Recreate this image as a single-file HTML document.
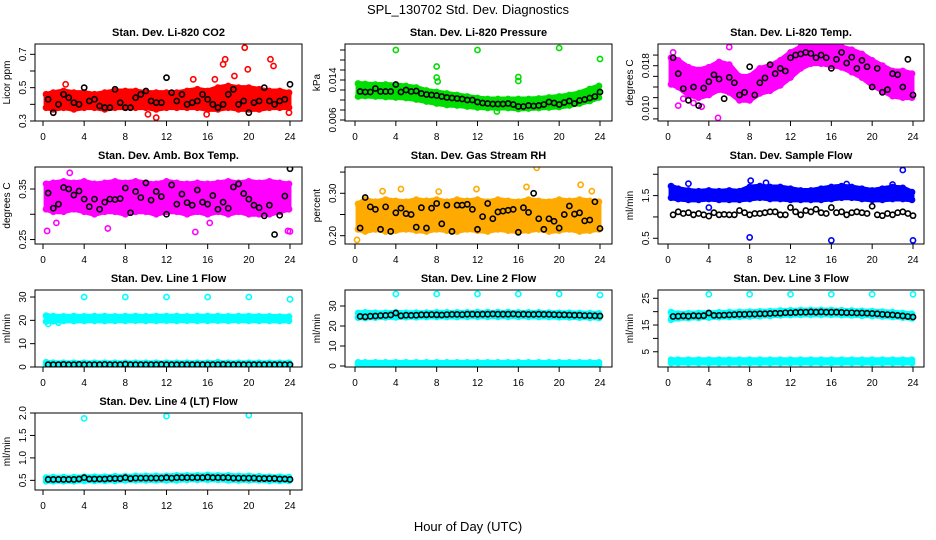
<!DOCTYPE html>
<html><head><meta charset="utf-8"><style>
html,body{margin:0;padding:0;background:#fff}
svg{display:block}
text{font-family:"Liberation Sans",Arial,sans-serif;fill:#000}
.ttl{font-size:11px;font-weight:bold}
.tk{font-size:10px}
</style></head><body>
<svg id="chart" width="936" height="540" viewBox="0 0 936 540">
<text x="468" y="14" text-anchor="middle" font-size="13">SPL_130702  Std. Dev. Diagnostics</text>
<text x="468" y="531" text-anchor="middle" font-size="13">Hour of Day (UTC)</text>
</svg>
<script>
// ---- shared categories ----
const hours = [0,1,2,3,4,5,6,7,8,9,10,11,12,13,14,15,16,17,18,19,20,21,22,23,24];
const halfHours = [0.5,1,1.5,2,2.5,3,3.5,4,4.5,5,5.5,6,6.5,7,7.5,8,8.5,9,9.5,10,10.5,11,11.5,12,12.5,13,13.5,14,14.5,15,15.5,16,16.5,17,17.5,18,18.5,19,19.5,20,20.5,21,21.5,22,22.5,23,23.5,24];
const xTicks = [0,4,8,12,16,20,24];

// ---- CO2 ----
const co2Lo = [0.38,0.37,0.38,0.37,0.38,0.38,0.37,0.38,0.38,0.38,0.38,0.37,0.38,0.38,0.38,0.38,0.37,0.37,0.38,0.37,0.37,0.37,0.38,0.38,0.38];
const co2Hi = [0.46,0.47,0.48,0.47,0.47,0.46,0.47,0.48,0.48,0.48,0.47,0.47,0.47,0.47,0.48,0.49,0.48,0.50,0.51,0.50,0.50,0.49,0.48,0.48,0.47];
const co2OutX = [17.5,17.7,19.6,19.9,22.1,22.4,14.6,18.6,11.0,10.2,15.9,23.9,2.2,16.7];
const co2OutY = [0.64,0.67,0.74,0.61,0.67,0.63,0.55,0.57,0.32,0.34,0.34,0.35,0.52,0.55];
const co2Black = [0.43,0.35,0.40,0.46,0.44,0.41,0.40,0.50,0.42,0.43,0.39,0.38,0.38,0.49,0.41,0.38,0.38,0.44,0.46,0.48,0.42,0.41,0.41,0.56,0.47,0.42,0.46,0.40,0.41,0.42,0.46,0.43,0.40,0.38,0.40,0.46,0.49,0.40,0.42,0.35,0.41,0.42,0.50,0.42,0.40,0.42,0.43,0.52];

// ---- Pressure ----
const presLo = [0.0107,0.0108,0.0107,0.0106,0.0105,0.0104,0.0101,0.0097,0.0093,0.0090,0.0089,0.0087,0.0085,0.0084,0.0084,0.0084,0.0082,0.0083,0.0084,0.0085,0.0086,0.0089,0.0093,0.0098,0.0105];
const presHi = [0.0133,0.0132,0.0131,0.0131,0.0130,0.0128,0.0125,0.0119,0.0116,0.0113,0.0110,0.0107,0.0104,0.0102,0.0102,0.0102,0.0102,0.0102,0.0103,0.0105,0.0107,0.0110,0.0114,0.0122,0.0128];
const presOutX = [4,12,20,24,8,8,8.1,16,16,13.9];
const presOutY = [0.0200,0.0200,0.0204,0.0182,0.0167,0.0145,0.0137,0.0146,0.0138,0.0077];
const presBlack = [0.0117,0.0116,0.0116,0.0123,0.0117,0.0117,0.0117,0.0131,0.0116,0.0120,0.0117,0.0118,0.0113,0.0111,0.0110,0.0109,0.0107,0.0105,0.0104,0.0103,0.0102,0.0100,0.0100,0.0096,0.0094,0.0093,0.0092,0.0092,0.0092,0.0093,0.0091,0.0087,0.0087,0.0089,0.0088,0.0089,0.0091,0.0096,0.0094,0.0091,0.0095,0.0098,0.0093,0.0099,0.0101,0.0104,0.0107,0.0116];

// ---- Li-820 Temp ----
const tempLo = [0.0145,0.0140,0.0125,0.0120,0.0125,0.0135,0.0130,0.0115,0.0115,0.0128,0.0133,0.0143,0.0158,0.0175,0.0184,0.0184,0.0180,0.0177,0.0168,0.0158,0.0143,0.0133,0.0123,0.0120,0.0120];
const tempHi = [0.0195,0.0190,0.0177,0.0172,0.0177,0.0187,0.0182,0.0160,0.0160,0.0175,0.0180,0.0190,0.0205,0.0215,0.0220,0.0220,0.0217,0.0215,0.0210,0.0202,0.0190,0.0180,0.0170,0.0170,0.0165];
const tempOutX = [0.5,1.0,3.3,4.9,1.5,2.5,6.0];
const tempOutY = [0.0205,0.0105,0.0103,0.0082,0.0118,0.0110,0.0215];
const tempBlack = [0.0195,0.0165,0.0137,0.0115,0.0140,0.0105,0.0138,0.0150,0.0163,0.0155,0.0118,0.0158,0.0148,0.0125,0.0130,0.0178,0.0125,0.0148,0.0157,0.0182,0.0165,0.0175,0.0170,0.0195,0.0200,0.0202,0.0205,0.0203,0.0195,0.0200,0.0195,0.0175,0.0192,0.0205,0.0185,0.0196,0.0175,0.0190,0.0178,0.0140,0.0175,0.0130,0.0135,0.0165,0.0163,0.0140,0.0192,0.0125];

// ---- Amb Box Temp ----
const ambLo = [0.310,0.305,0.305,0.310,0.305,0.300,0.305,0.305,0.300,0.305,0.305,0.300,0.305,0.305,0.300,0.305,0.300,0.305,0.300,0.305,0.300,0.300,0.300,0.305,0.310];
const ambHi = [0.360,0.362,0.365,0.362,0.365,0.360,0.362,0.365,0.362,0.365,0.362,0.360,0.365,0.362,0.360,0.362,0.360,0.362,0.365,0.362,0.365,0.362,0.365,0.362,0.360];
const ambOutX = [2.6,0.4,6.3,14.8,23.8,24.0,1.3,16.2];
const ambOutY = [0.382,0.267,0.272,0.265,0.267,0.266,0.283,0.283];
const ambBlack = [0.342,0.312,0.320,0.353,0.350,0.338,0.346,0.330,0.315,0.330,0.310,0.324,0.330,0.329,0.331,0.352,0.303,0.345,0.333,0.362,0.328,0.345,0.335,0.300,0.358,0.320,0.340,0.323,0.318,0.348,0.324,0.320,0.337,0.310,0.324,0.312,0.354,0.360,0.341,0.330,0.318,0.313,0.297,0.318,0.260,0.298,0.336,0.390];

// ---- Gas Stream RH ----
const rhLo = [0.215,0.210,0.215,0.210,0.212,0.215,0.212,0.210,0.215,0.212,0.210,0.215,0.212,0.210,0.215,0.212,0.210,0.212,0.215,0.210,0.212,0.215,0.210,0.212,0.215];
const rhHi = [0.275,0.285,0.280,0.285,0.282,0.280,0.285,0.282,0.285,0.280,0.285,0.282,0.285,0.280,0.285,0.282,0.280,0.285,0.282,0.280,0.285,0.282,0.285,0.282,0.280];
const rhOutX = [17.8,22.1,0.2,11.9,2.7,4.5,8.2,23.2,16.8];
const rhOutY = [0.360,0.320,0.190,0.310,0.305,0.310,0.304,0.305,0.315];
const rhBlack = [0.218,0.290,0.268,0.262,0.215,0.268,0.210,0.254,0.265,0.252,0.250,0.220,0.266,0.218,0.265,0.276,0.228,0.272,0.210,0.272,0.272,0.274,0.262,0.215,0.245,0.276,0.240,0.256,0.258,0.260,0.262,0.208,0.266,0.255,0.300,0.240,0.215,0.240,0.234,0.218,0.250,0.270,0.251,0.254,0.235,0.237,0.280,0.217];

// ---- Sample Flow ----
const sfLo = [1.45,1.42,1.40,1.40,1.42,1.40,1.40,1.40,1.42,1.45,1.42,1.42,1.40,1.40,1.40,1.40,1.42,1.45,1.45,1.42,1.40,1.40,1.42,1.42,1.40];
const sfHi = [1.72,1.66,1.62,1.60,1.62,1.60,1.62,1.60,1.70,1.72,1.70,1.70,1.66,1.62,1.62,1.66,1.70,1.72,1.70,1.66,1.62,1.66,1.70,1.68,1.58];
const sfOutX = [8,16,24,23,2,8.1,9.6,17.5,4,22];
const sfOutY = [0.52,0.45,0.45,2.10,1.78,1.85,1.80,1.77,1.22,1.76];
const sfBlack = [1.05,1.12,1.08,1.10,1.05,1.08,1.05,1.02,1.10,1.05,1.06,1.05,1.05,1.15,1.10,1.05,1.08,1.08,1.10,1.12,1.12,1.05,1.05,1.22,1.12,1.05,1.15,1.12,1.18,1.10,1.08,1.22,1.10,1.12,1.05,1.10,1.12,1.10,1.08,1.25,1.05,1.03,1.08,1.05,1.10,1.12,1.08,1.03];

// ---- Line 1 Flow ----
const l1Lo = [19.5,19.6,19.8,19.7,19.8,19.8,19.7,19.8,19.8,19.9,19.8,19.8,19.9,19.8,19.9,19.8,19.8,19.9,19.8,19.9,19.8,19.8,19.8,19.7,19.8];
const l1Hi = [22.0,21.8,21.7,21.8,21.7,21.8,21.8,21.7,21.8,21.8,21.7,21.8,21.8,21.8,21.7,21.8,21.8,21.8,21.7,21.8,21.8,21.7,21.7,21.6,21.6];
const l1OutX = [4,8,12,16,20,24,0.5,1.5];
const l1OutY = [30,30,30,30,30,29,18.5,19];
const l1Black = [1.0,1.0,1.0,1.1,1.0,1.0,1.1,1.0,1.0,1.0,1.0,1.1,1.0,1.0,1.0,1.2,1.0,1.0,1.0,1.0,1.0,1.0,1.1,1.0,1.0,1.0,1.0,1.0,1.0,1.0,1.0,1.0,1.0,1.0,1.1,1.0,1.0,1.0,1.0,1.0,1.0,1.0,1.0,1.0,1.0,1.0,1.0,1.0];
const l1BaseLo = [0.6,0.6,0.6,0.6,0.6,0.6,0.6,0.6,0.6,0.6,0.6,0.6,0.6,0.6,0.6,0.6,0.6,0.6,0.6,0.6,0.6,0.6,0.6,0.6,0.6];
const l1BaseHi = [2.0,1.8,1.8,1.8,1.8,1.8,1.8,1.8,1.8,1.8,1.8,1.8,1.8,1.8,1.8,1.8,1.8,2.0,1.8,1.8,1.8,1.8,1.8,1.8,1.8];

// ---- Line 2 Flow ----
const l2Lo = [24.2,24.0,24.2,24.3,24.3,24.4,24.4,24.5,24.5,24.5,24.5,24.6,24.6,24.6,24.6,24.6,24.6,24.6,24.5,24.5,24.4,24.3,24.2,24.1,24.0];
const l2Hi = [26.5,26.8,26.6,26.6,26.8,26.6,26.7,26.7,26.8,26.8,26.8,26.8,26.9,26.9,26.9,26.9,26.8,26.8,26.8,26.7,26.6,26.6,26.5,26.4,26.3];
const l2OutX = [4,8,12,16,20,24];
const l2OutY = [36,36,36,36,36,35.5];
const l2Black = [24.8,24.6,24.9,25.0,25.2,25.3,25.5,26.5,25.1,25.4,25.3,25.4,25.6,25.6,25.7,25.6,25.5,25.7,25.8,25.8,25.7,25.9,25.9,25.8,25.9,25.9,26.0,25.9,25.9,25.9,26.0,25.8,25.9,25.8,25.8,25.9,25.8,25.8,25.7,25.6,25.6,25.5,25.4,25.4,25.2,25.2,25.1,25.0];
const l2BaseLo = [0.5,0.5,0.5,0.5,0.5,0.5,0.5,0.5,0.5,0.5,0.5,0.5,0.5,0.5,0.5,0.5,0.5,0.5,0.5,0.5,0.5,0.5,0.5,0.5,0.5];
const l2BaseHi = [1.8,1.8,1.8,1.8,1.8,1.8,1.8,1.8,1.8,1.8,1.8,1.8,1.8,1.8,1.8,1.8,1.8,1.8,1.8,1.8,1.8,1.8,1.8,1.8,1.8];

// ---- Line 3 Flow ----
const l3Lo = [17.0,17.5,17.6,17.7,17.8,17.9,18.0,18.1,18.2,18.3,18.4,18.6,18.7,18.8,18.8,18.8,18.8,18.7,18.6,18.5,18.4,18.2,18.0,17.8,17.5];
const l3Hi = [19.8,19.3,19.4,19.5,19.6,19.7,19.8,19.9,20.0,20.1,20.2,20.4,20.5,20.6,20.6,20.6,20.6,20.5,20.4,20.3,20.2,20.0,19.8,19.5,19.2];
const l3OutX = [4,8,12,16,20,24];
const l3OutY = [26.5,26.5,26.5,26.5,26.5,26.5];
const l3Black = [18.2,18.3,18.4,18.3,18.5,18.4,18.5,19.5,18.6,18.6,18.7,18.8,18.9,19.0,19.0,19.1,19.1,19.2,19.2,19.3,19.4,19.4,19.6,19.6,19.7,19.8,19.8,19.9,19.8,19.9,19.8,19.8,19.8,19.7,19.6,19.6,19.5,19.5,19.4,19.3,19.2,19.0,18.9,18.8,18.6,18.4,18.2,18.0];
const l3BaseLo = [0.8,0.8,0.8,0.8,0.8,0.8,0.8,0.8,0.8,0.8,0.8,0.8,0.8,0.8,0.8,0.8,0.8,0.8,0.8,0.8,0.8,0.8,0.8,0.8,0.8];
const l3BaseHi = [2.0,2.0,2.0,2.0,2.0,2.0,2.0,2.0,2.0,2.0,2.0,2.0,2.0,2.0,2.0,2.0,2.0,2.0,2.0,2.0,2.0,2.0,2.0,2.0,2.0];

// ---- Line 4 Flow ----
const l4Lo = [0.48,0.48,0.48,0.48,0.49,0.49,0.49,0.49,0.50,0.50,0.50,0.50,0.50,0.50,0.51,0.51,0.51,0.51,0.50,0.50,0.50,0.50,0.49,0.49,0.49];
const l4Hi = [0.56,0.57,0.57,0.57,0.58,0.58,0.58,0.59,0.59,0.60,0.60,0.60,0.60,0.61,0.61,0.61,0.62,0.61,0.61,0.60,0.60,0.59,0.58,0.58,0.57];
const l4OutX = [4,12,20];
const l4OutY = [1.88,1.93,1.95];
const l4Black = [0.52,0.52,0.52,0.52,0.52,0.52,0.53,0.56,0.53,0.53,0.53,0.53,0.54,0.54,0.54,0.56,0.54,0.55,0.55,0.55,0.55,0.55,0.55,0.56,0.55,0.56,0.56,0.56,0.56,0.56,0.56,0.57,0.56,0.56,0.56,0.56,0.55,0.55,0.55,0.55,0.55,0.54,0.54,0.54,0.54,0.53,0.53,0.52];

// ---- panel definitions (layout + references to data) ----
const colX = [{l:35,r:302,x0:43,x24:290},{l:345,r:612,x0:355,x24:600},{l:658,r:924,x0:668,x24:913}];
const rowTop = [44,167,290,413];
const H = 77;
const panels = [
 {name:'co2',title:'Stan. Dev. Li-820 CO2',ylab:'Licor ppm',c:0,r:0,ymin:0.3,ymax:0.762,ticks:[0.3,0.4,0.5,0.6,0.7],labels:[0.3,0.5,0.7],fmt:1,color:'#ff0000',lo:co2Lo,hi:co2Hi,ox:co2OutX,oy:co2OutY,blk:co2Black},
 {name:'pressure',title:'Stan. Dev. Li-820 Pressure',ylab:'kPa',c:1,r:0,ymin:0.0058,ymax:0.0212,ticks:[0.006,0.008,0.010,0.012,0.014,0.016,0.018,0.020],labels:[0.006,0.014],fmt:3,color:'#00dd00',lo:presLo,hi:presHi,ox:presOutX,oy:presOutY,blk:presBlack},
 {name:'li820-temp',title:'Stan. Dev. Li-820 Temp.',ylab:'degrees C',c:2,r:0,ymin:0.00761,ymax:0.02208,ticks:[0.008,0.010,0.012,0.014,0.016,0.018,0.020],labels:[0.010,0.018],fmt:3,color:'#ff00ff',lo:tempLo,hi:tempHi,ox:tempOutX,oy:tempOutY,blk:tempBlack},
 {name:'amb-box-temp',title:'Stan. Dev. Amb. Box Temp.',ylab:'degrees C',c:0,r:1,ymin:0.2412,ymax:0.3935,ticks:[0.25,0.30,0.35],labels:[0.25,0.35],fmt:2,color:'#ff00ff',lo:ambLo,hi:ambHi,ox:ambOutX,oy:ambOutY,blk:ambBlack},
 {name:'gas-stream-rh',title:'Stan. Dev. Gas Stream RH',ylab:'percent',c:1,r:1,ymin:0.1804,ymax:0.362,ticks:[0.20,0.25,0.30,0.35],labels:[0.20,0.30],fmt:2,color:'#ffaa00',lo:rhLo,hi:rhHi,ox:rhOutX,oy:rhOutY,blk:rhBlack},
 {name:'sample-flow',title:'Stan. Dev. Sample Flow',ylab:'ml/min',c:2,r:1,ymin:0.366,ymax:2.17,ticks:[0.5,1.0,1.5,2.0],labels:[0.5,1.5],fmt:1,color:'#0000ff',lo:sfLo,hi:sfHi,ox:sfOutX,oy:sfOutY,blk:sfBlack},
 {name:'line1-flow',title:'Stan. Dev. Line 1 Flow',ylab:'ml/min',c:0,r:2,ymin:0,ymax:33,ticks:[0,10,20,30],labels:[0,10,20,30],fmt:0,color:'#00ffff',lo:l1Lo,hi:l1Hi,lo2:l1BaseLo,hi2:l1BaseHi,ox:l1OutX,oy:l1OutY,blk:l1Black},
 {name:'line2-flow',title:'Stan. Dev. Line 2 Flow',ylab:'ml/min',c:1,r:2,ymin:-0.5,ymax:38,ticks:[0,10,20,30],labels:[0,10,20,30],fmt:0,color:'#00ffff',lo:l2Lo,hi:l2Hi,lo2:l2BaseLo,hi2:l2BaseHi,ox:l2OutX,oy:l2OutY,blk:l2Black},
 {name:'line3-flow',title:'Stan. Dev. Line 3 Flow',ylab:'ml/min',c:2,r:2,ymin:-0.7,ymax:28.1,ticks:[5,10,15,20,25],labels:[5,15,25],fmt:0,color:'#00ffff',lo:l3Lo,hi:l3Hi,lo2:l3BaseLo,hi2:l3BaseHi,ox:l3OutX,oy:l3OutY,blk:l3Black},
 {name:'line4-flow',title:'Stan. Dev. Line 4 (LT) Flow',ylab:'ml/min',c:0,r:3,ymin:0.285,ymax:2.0,ticks:[0.5,1.0,1.5,2.0],labels:[0.5,1.0,1.5,2.0],fmt:1,color:'#00ffff',lo:l4Lo,hi:l4Hi,ox:l4OutX,oy:l4OutY,blk:l4Black}
];

const NS='http://www.w3.org/2000/svg';
const svg=document.getElementById('chart');
function mk(tag,attrs,parent){const e=document.createElementNS(NS,tag);for(const k in attrs)e.setAttribute(k,attrs[k]);parent.appendChild(e);return e;}

panels.forEach(p=>{
  const col=colX[p.c], top=rowTop[p.r], bot=top+H;
  const xs=h=>col.x0+(col.x24-col.x0)*h/24;
  const ys=v=>bot-(v-p.ymin)/(p.ymax-p.ymin)*H;
  const g=mk('g',{},svg);
  
  
  const clipId='clip-'+p.name;
  const cp=mk('clipPath',{id:clipId},g);
  mk('rect',{x:col.l,y:top,width:col.r-col.l,height:H},cp);
  const plot=mk('g',{'clip-path':'url(#'+clipId+')'},g);
  
  
  function band(lo,hi,nm){
    let d='';
    hours.forEach((h,i)=>{const hh=Math.min(Math.max(h,0.3),23.9);d+=(i?'L':'M')+xs(hh)+','+ys(hi[i]);});
    for(let i=hours.length-1;i>=0;i--){const hh=Math.min(Math.max(hours[i],0.3),23.9);d+='L'+xs(hh)+','+ys(lo[i]);}
    const b=mk('path',{d:d+'Z',fill:p.color,stroke:p.color,'stroke-width':5,'stroke-linejoin':'round'},plot);
    
    
    hours.forEach((h,i)=>{
      const hh=Math.min(Math.max(h,0.3),23.9);
      [lo[i],hi[i]].forEach(v=>{
        const c=mk('circle',{cx:xs(hh),cy:ys(v),r:2.6,fill:'none',stroke:p.color,'stroke-width':1.6},plot);
        
        
      });
    });
  }
  band(p.lo,p.hi,p.name+'-point-cloud');
  if(p.lo2) band(p.lo2,p.hi2,p.name+'-low-point-cloud');
  p.ox.forEach((h,i)=>{
    const c=mk('circle',{cx:xs(h),cy:ys(p.oy[i]),r:2.6,fill:'none',stroke:p.color,'stroke-width':1.6},plot);
    
    
  });
  p.blk.forEach((v,i)=>{
    const c=mk('circle',{cx:xs(halfHours[i]),cy:ys(v),r:2.6,fill:'none',stroke:'#000','stroke-width':1.6},plot);
    
    
  });
  const box=mk('rect',{x:col.l,y:top,width:col.r-col.l,height:H,fill:'none',stroke:'#000','stroke-width':1},g);
  
  
  const t=mk('text',{x:(col.l+col.r)/2,y:top-8,'text-anchor':'middle',class:'ttl'},g);
  t.textContent=p.title;
  
  
  const xa=mk('g',{},g);
  
  
  mk('line',{x1:xs(0),x2:xs(24),y1:bot,y2:bot,stroke:'#000'},xa);
  xTicks.forEach(v=>{
    mk('line',{x1:xs(v),x2:xs(v),y1:bot,y2:bot+5,stroke:'#000'},xa);
    const tx=mk('text',{x:xs(v),y:bot+19,'text-anchor':'middle',class:'tk'},xa);
    tx.textContent=v;
  });
  const ya=mk('g',{},g);
  
  
  const tv=p.ticks;
  mk('line',{x1:col.l,x2:col.l,y1:ys(tv[0]),y2:ys(tv[tv.length-1]),stroke:'#000'},ya);
  tv.forEach(v=>mk('line',{x1:col.l-5,x2:col.l,y1:ys(v),y2:ys(v),stroke:'#000'},ya));
  p.labels.forEach(v=>{
    const yy=ys(v), xx=col.l-9;
    const tx=mk('text',{x:xx,y:yy,'text-anchor':'middle',transform:'rotate(-90 '+xx+' '+yy+')',class:'tk'},ya);
    tx.textContent=v.toFixed(p.fmt);
  });
  const yl=mk('text',{x:col.l-25,y:top+H/2,'text-anchor':'middle',transform:'rotate(-90 '+(col.l-25)+' '+(top+H/2)+')',class:'tk'},g);
  yl.textContent=p.ylab;
  
  
});
</script>
</body></html>
